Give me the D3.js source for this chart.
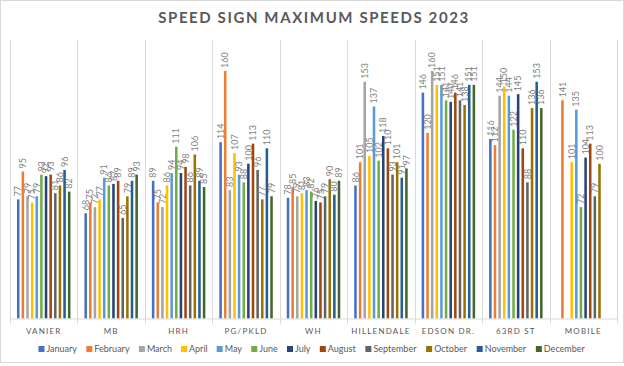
<!DOCTYPE html>
<html>
<head>
<meta charset="utf-8">
<script src="https://cdn.jsdelivr.net/npm/d3@7"></script>
<style>
  body { margin: 0; background: #fff; }
  text { font-family: Lato, "Open Sans", sans-serif; }
</style>
</head>
<body>
<svg class="chart"></svg>
<script>
var width = 624, height = 366;

var chart = d3.select(".chart")
    .attr("width", width)
    .attr("height", height);

// sites on the x axis
var sites = ["VANIER", "MB", "HRH", "PG/PKLD", "WH", "HILLENDALE", "EDSON DR.", "63RD ST", "MOBILE"];
var months = ["January", "February", "March", "April", "May", "June", "July", "August",
              "September", "October", "November", "December"];
var colors = ["#4472C4", "#ED7D31", "#A5A5A5", "#FFC000", "#5B9BD5", "#70AD47",
              "#264478", "#9E480E", "#636363", "#997300", "#255E91", "#43682B"];

// one array per month, one value per site (null = no reading)
var january   = [77, 68, 89, 114, 78, 86, 146, 116, null];
var february  = [95, 75, 75, 160, 85, 101, 120, 112, 141];
var march     = [79, 72, 72, 83, 79, 153, 160, 144, null];
var april     = [75, 77, 86, 107, 81, 105, 151, 150, 101];
var may       = [79, 91, 94, 93, 83, 137, 151, 144, 135];
var june      = [93, 86, 111, 88, 82, 102, 141, 122, 72];
var july      = [92, 87, 94, 100, 76, 118, 140, 145, 104];
var august    = [93, 89, 98, 113, 75, 110, 146, 110, 113];
var september = [81, 65, 86, 96, 79, 93, 141, 88, 79];
var october   = [86, 79, 106, 77, 90, 101, 138, 136, 100];
var november  = [96, 89, 89, 110, 80, 91, 151, 153, null];
var december  = [82, 93, 85, 79, 89, 97, 151, 136, null];

var series = [january, february, march, april, may, june, july, august,
              september, october, november, december];

var plotTop = 40, plotBottom = 318.5, left = 10, right = 617;

var x0 = d3.scaleBand()
    .domain(sites)
    .range([left, right])
    .paddingInner(0.145)
    .paddingOuter(0.0725);

var x1 = d3.scaleBand()
    .domain(months)
    .range([0, x0.bandwidth()])
    .padding(0.45);

var y = d3.scaleLinear()
    .domain([0, 180])
    .range([plotBottom, plotTop]);

// outer border
chart.append("rect")
    .attr("x", 0.5).attr("y", 0.5)
    .attr("width", width - 1).attr("height", 362)
    .attr("fill", "none")
    .attr("stroke", "#d9d9d9");

// title
chart.append("text")
    .attr("x", width / 2 + 2)
    .attr("y", 23)
    .attr("text-anchor", "middle")
    .attr("font-size", 15)
    .attr("font-weight", "bold")
    .attr("letter-spacing", 1.6)
    .attr("fill", "#595959")
    .text("SPEED SIGN MAXIMUM SPEEDS 2023");

// category separators
var edges = sites.map(function(s) { return x0(s) - x0.step() * x0.paddingInner() / 2; });
edges.push(right);
chart.append("g").selectAll("line")
    .data(edges)
    .enter().append("line")
    .attr("x1", function(d) { return Math.round(d) + 0.5; })
    .attr("x2", function(d) { return Math.round(d) + 0.5; })
    .attr("y1", plotTop)
    .attr("y2", plotBottom + 5)
    .attr("stroke", "#d9d9d9");

// bars
var groups = chart.append("g").selectAll("g")
    .data(sites)
    .enter().append("g")
    .attr("transform", function(d) { return "translate(" + x0(d) + ",0)"; });

var cells = groups.selectAll("g")
    .data(function(site, i) {
        return months.map(function(m, j) { return {month: m, idx: j, value: series[j][i]}; })
            .filter(function(d) { return d.value != null; });
    })
    .enter().append("g");

cells.append("rect")
    .attr("x", function(d) { return x1(d.month); })
    .attr("y", function(d) { return y(d.value); })
    .attr("width", x1.bandwidth())
    .attr("height", function(d) { return y(0) - y(d.value); })
    .attr("fill", function(d) { return colors[d.idx]; });

cells.append("text")
    .attr("transform", function(d) {
        return "translate(" + (x1(d.month) + x1.bandwidth() / 2) + "," + (y(d.value) - 3) + ") rotate(-90)";
    })
    .attr("dy", "0.35em")
    .attr("font-size", 9)
    .attr("fill", "#7f7f7f")
    .text(function(d) { return d.value; });

// x axis
chart.append("line")
    .attr("x1", left).attr("x2", right)
    .attr("y1", plotBottom + 0.5).attr("y2", plotBottom + 0.5)
    .attr("stroke", "#d9d9d9");

chart.append("g").selectAll("text")
    .data(sites)
    .enter().append("text")
    .attr("x", function(d) { return x0(d) + x0.bandwidth() / 2; })
    .attr("y", 334)
    .attr("text-anchor", "middle")
    .attr("font-size", 8)
    .attr("letter-spacing", 1.2)
    .attr("fill", "#595959")
    .text(function(d) { return d; });

// legend
var legend = chart.append("g");
var items = legend.selectAll("g")
    .data(months)
    .enter().append("g");
items.append("rect")
    .attr("width", 6).attr("height", 6)
    .attr("y", -6)
    .attr("fill", function(d, i) { return colors[i]; });
items.append("text")
    .attr("x", 8)
    .attr("font-size", 9)
    .attr("fill", "#595959")
    .text(function(d) { return d; });

var pos = 0, offsets = [];
items.each(function() {
    offsets.push(pos);
    pos += this.getBBox().width + 9;
});
var start = (width - (pos - 9)) / 2;
items.attr("transform", function(d, i) { return "translate(" + (start + offsets[i]) + ",352)"; });
</script>
</body>
</html>
